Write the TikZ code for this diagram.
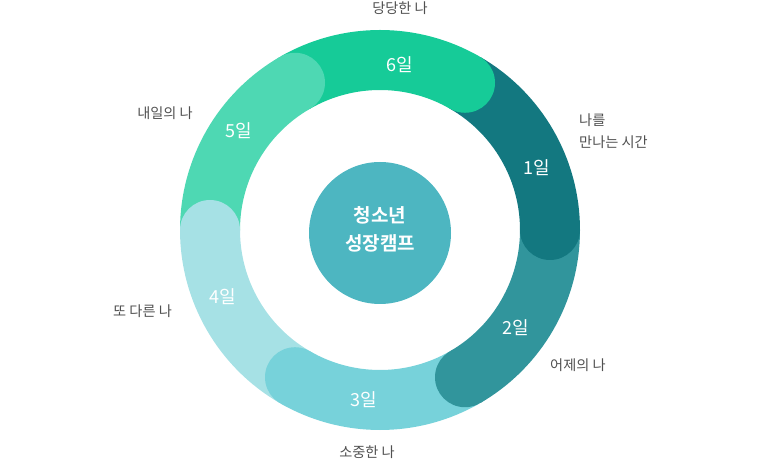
\documentclass[tikz,border=0pt]{standalone}
\usepackage{fontspec}
\setmainfont{Noto Sans CJK KR}
\newfontfamily\krbold[BoldFont={Noto Sans CJK KR Bold}]{Noto Sans CJK KR}
\definecolor{cone}{HTML}{137880}
\definecolor{ctwo}{HTML}{31959C}
\definecolor{cthree}{HTML}{77D2DA}
\definecolor{cfour}{HTML}{A6E1E5}
\definecolor{cfive}{HTML}{4ED8B3}
\definecolor{csix}{HTML}{16CB98}
\definecolor{ccenter}{HTML}{4DB6C1}
\definecolor{lbl}{HTML}{505050}
\tikzset{
  seg/.style={line width=60pt, line cap=butt},
  daylbl/.style={text=white, font=\fontsize{18}{20}\selectfont, inner sep=0pt},
  outlbl/.style={text=lbl, font=\fontsize{14.2}{22}\selectfont, inner sep=0pt},
}
\begin{document}
\begin{tikzpicture}[x=1pt,y=1pt]
\useasboundingbox (0,0) rectangle (760,460);
\coordinate (O) at (380,230);
% ring segments (flat)
\draw[seg, cone]   ([shift={(O)}]60:170)   arc[start angle=60,  end angle=0,    radius=170pt];
\draw[seg, ctwo]   ([shift={(O)}]0:170)    arc[start angle=0,   end angle=-60,  radius=170pt];
\draw[seg, cthree] ([shift={(O)}]-60:170)  arc[start angle=-60, end angle=-120, radius=170pt];
\draw[seg, cfour]  ([shift={(O)}]-120:170) arc[start angle=-120,end angle=-180, radius=170pt];
\draw[seg, cfive]  ([shift={(O)}]180:170)  arc[start angle=180, end angle=120,  radius=170pt];
\draw[seg, csix]   ([shift={(O)}]120:170)  arc[start angle=120, end angle=60,   radius=170pt];
% round caps
\fill[cone]   ([shift={(O)}]0:170)    circle (30pt);
\fill[ctwo]   ([shift={(O)}]-60:170)  circle (30pt);
\fill[cthree] ([shift={(O)}]-120:170) circle (30pt);
\fill[cfour]  ([shift={(O)}]180:170)  circle (30pt);
\fill[cfive]  ([shift={(O)}]120:170)  circle (30pt);
\fill[csix]   ([shift={(O)}]60:170)   circle (30pt);
% center
\fill[ccenter] (380,227) circle (71pt);
\node[text=white, align=center, inner sep=0pt, font=\krbold\bfseries\fontsize{19}{28}\selectfont] (center) at (380,231) {청소년\\성장캠프};
% day labels
\node[daylbl] (d1) at (537,292) {1일};
\node[daylbl] (d2) at (516,132) {2일};
\node[daylbl] (d3) at (364,60) {3일};
\node[daylbl] (d4) at (223,163) {4일};
\node[daylbl] (d5) at (239,329) {5일};
\node[daylbl] (d6) at (400,395) {6일};
% outer labels
\node[outlbl] (o6) at (400,452) {당당한 나};
\node[outlbl, align=left, anchor=west] (o1) at (579,329) {나를\\만나는 시간};
\node[outlbl, anchor=west] (o2) at (550,95) {어제의 나};
\node[outlbl] (o3) at (367,8) {소중한 나};
\node[outlbl, anchor=west] (o4) at (113,149) {또 다른 나};
\node[outlbl] (o5) at (165,347) {내일의 나};
\end{tikzpicture}
\end{document}
